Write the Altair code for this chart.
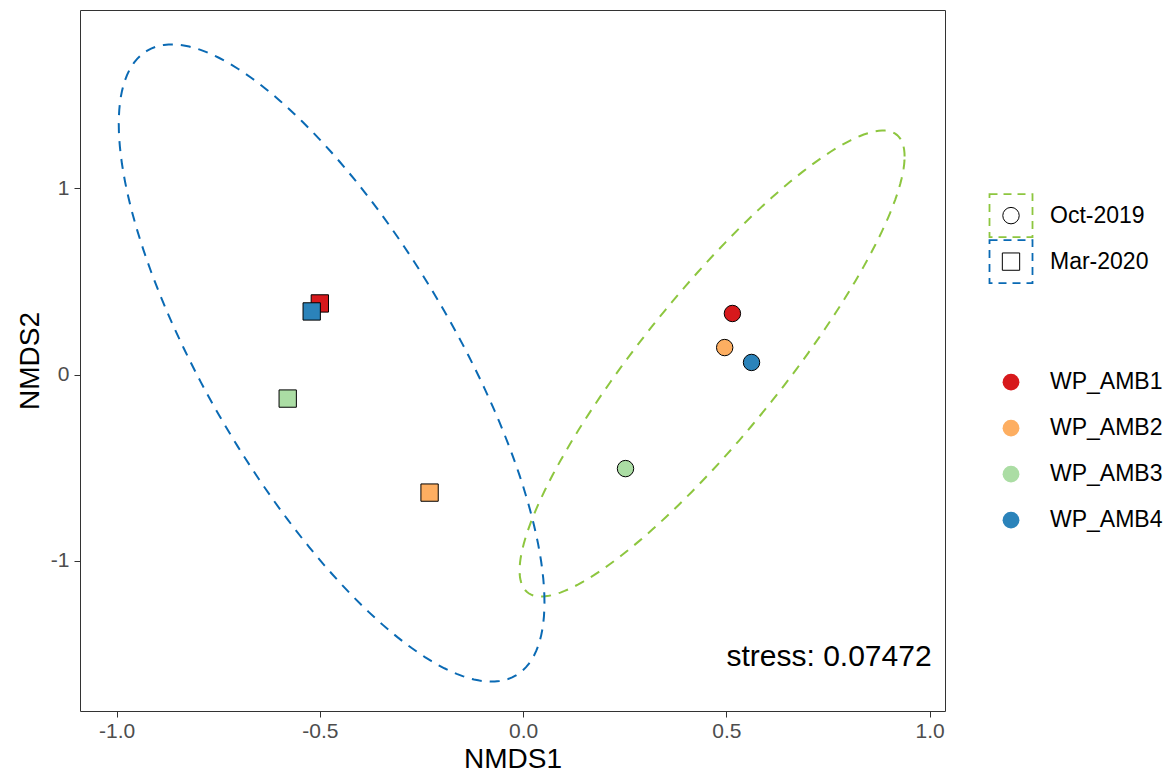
import numpy as np
import pandas as pd
import altair as alt

FONT = "Liberation Sans"

# ---------------- data ----------------
periods = ["Oct-2019", "Mar-2020"]
period_shapes = ["circle", "square"]
period_colors = ["#8DC63F", "#0A6AB4"]
period_sizes = [270, 300]

sites = ["WP_AMB1", "WP_AMB2", "WP_AMB3", "WP_AMB4"]
site_colors = ["#D7191C", "#FDAE61", "#ABDDA4", "#2B83BA"]

oct_nmds1 = [0.515, 0.496, 0.252, 0.562]
oct_nmds2 = [0.328, 0.145, -0.505, 0.065]
mar_nmds1 = [-0.500, -0.230, -0.579, -0.520]
mar_nmds2 = [0.382, -0.634, -0.129, 0.339]

# ellipse (centre, shape matrix) per period
oct_ellipse_center = [0.465, 0.059]
oct_ellipse_shape = [[0.2243, 0.5265], [0.5265, 1.5665]]
mar_ellipse_center = [-0.471, 0.062]
mar_ellipse_shape = [[0.2742, -0.6727], [-0.6727, 2.9285]]

x_ticks = [-1.0, -0.5, 0.0, 0.5, 1.0]
y_ticks = [-1, 0, 1]
x_domain = [-1.090, 1.038]
y_domain = [-1.807, 1.958]

stress_label = "stress: 0.07472"
stress_x = 1.005
stress_y = -1.515

# ---------------- tables ----------------
pts_rows = []
for s, x, y in zip(sites, oct_nmds1, oct_nmds2):
    pts_rows.append({"site": s, "period": periods[0], "x": x, "y": y})
for s, x, y in zip(sites, mar_nmds1, mar_nmds2):
    pts_rows.append({"site": s, "period": periods[1], "x": x, "y": y})
pts_df = pd.DataFrame(pts_rows)

t = np.linspace(0, 2 * np.pi, 181)
ell_rows = []
for p, c, S in [(periods[0], oct_ellipse_center, oct_ellipse_shape),
                (periods[1], mar_ellipse_center, mar_ellipse_shape)]:
    L = np.linalg.cholesky(np.array(S))
    xy = (L @ np.vstack([np.cos(t), np.sin(t)])).T + np.array(c)
    for i, (ex, ey) in enumerate(xy):
        ell_rows.append({"period": p, "i": i, "x": float(ex), "y": float(ey)})
ell_df = pd.DataFrame(ell_rows)

# ---------------- scales ----------------
W, H = 865, 701
xs = alt.Scale(domain=x_domain, nice=False, zero=False)
ys = alt.Scale(domain=y_domain, nice=False, zero=False)
period_stroke = alt.Scale(domain=periods, range=period_colors)
period_shape = alt.Scale(domain=periods, range=period_shapes)
period_size = alt.Scale(domain=periods, range=period_sizes)
site_fill = alt.Scale(domain=sites, range=site_colors)

x_axis = alt.Axis(values=x_ticks, grid=False, domain=False,
                  labelExpr="datum.value < 0 ? '-' + format(-datum.value, '.1f') : format(datum.value, '.1f')",
                  labelFontSize=21, labelColor="#4D4D4D", labelFont=FONT,
                  tickColor="#333333", tickSize=6, labelPadding=3,
                  titleFontSize=28, titleFont=FONT, titleFontWeight="normal",
                  titleColor="black", titlePadding=4)
y_axis = alt.Axis(values=y_ticks, grid=False, domain=False,
                  labelExpr="datum.value < 0 ? '-' + format(-datum.value, 'd') : format(datum.value, 'd')",
                  labelFontSize=21, labelColor="#4D4D4D", labelFont=FONT,
                  tickColor="#333333", tickSize=6, labelPadding=5,
                  titleFontSize=28, titleFont=FONT, titleFontWeight="normal",
                  titleColor="black", titlePadding=6)

X = alt.X("x:Q", scale=xs, axis=x_axis, title="NMDS1")
Y = alt.Y("y:Q", scale=ys, axis=y_axis, title="NMDS2")

ellipses = alt.Chart(ell_df).mark_line(strokeDash=[10, 8], strokeWidth=2).encode(
    x=X, y=Y,
    stroke=alt.Stroke("period:N", scale=period_stroke, legend=None),
    detail="period:N",
    order="i:Q",
)

points = alt.Chart(pts_df).mark_point(filled=True, opacity=1, stroke="black",
                                      strokeWidth=1).encode(
    x=X, y=Y,
    shape=alt.Shape("period:N", scale=period_shape, legend=None),
    size=alt.Size("period:N", scale=period_size, legend=None),
    fill=alt.Fill("site:N", scale=site_fill, legend=None),
)

stress = alt.Chart(pd.DataFrame({"x": [stress_x], "y": [stress_y],
                                 "t": [stress_label]})).mark_text(
    align="right", baseline="middle", fontSize=30, font=FONT, color="black"
).encode(x=X, y=Y, text="t:N")

main = alt.layer(ellipses, points, stress).properties(width=W, height=H)

# ---------------- legend panel ----------------
ROW = 46
LEG_W = 200
SHAPE_ROW0 = 4.47
SITE_ROW0 = 8.09
SYM_X = 47
LAB_X = 86

leg_period_df = pd.DataFrame({"period": periods,
                              "row": [SHAPE_ROW0 + i for i in range(len(periods))]})
leg_site_df = pd.DataFrame({"site": sites,
                            "row": [SITE_ROW0 + i for i in range(len(sites))]})
ly = alt.Y("row:Q", scale=alt.Scale(domain=[0, H / ROW], reverse=True, nice=False,
                                    zero=False), axis=None)

boxes = alt.Chart(leg_period_df).mark_point(
    shape="square", size=43 * 43, filled=False, strokeWidth=1.8,
    strokeDash=[8, 6], opacity=1
).encode(x=alt.value(SYM_X), y=ly,
         stroke=alt.Stroke("period:N", scale=period_stroke, legend=None))

syms = alt.Chart(leg_period_df).mark_point(
    filled=True, fill="white", stroke="black", strokeWidth=1, opacity=1
).encode(x=alt.value(SYM_X), y=ly,
         shape=alt.Shape("period:N", scale=period_shape, legend=None),
         size=alt.Size("period:N", scale=period_size, legend=None))

period_labels = alt.Chart(leg_period_df).mark_text(
    align="left", baseline="middle", fontSize=23, font=FONT, color="black"
).encode(x=alt.value(LAB_X), y=ly, text="period:N")

dots = alt.Chart(leg_site_df).mark_circle(size=283, opacity=1).encode(
    x=alt.value(SYM_X), y=ly,
    fill=alt.Fill("site:N", scale=site_fill, legend=None))

site_labels = alt.Chart(leg_site_df).mark_text(
    align="left", baseline="middle", fontSize=23, font=FONT, color="black"
).encode(x=alt.value(LAB_X), y=ly, text="site:N")

legend = alt.layer(boxes, syms, period_labels, dots, site_labels).properties(
    width=LEG_W, height=H, view=alt.ViewBackground(stroke="transparent"))

chart = alt.hconcat(main, legend, spacing=17).resolve_scale(
    x="independent", y="independent"
).properties(
    padding={"left": 7, "top": 1, "right": 0, "bottom": 0},
    background="white",
).configure_view(stroke="#333333", strokeWidth=1)

chart.save("out.html", embed_options={"renderer": "svg", "actions": False})
